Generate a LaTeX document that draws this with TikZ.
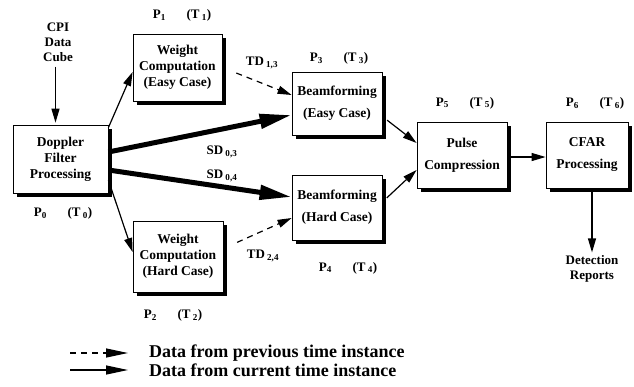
\documentclass[tikz,border=0pt]{standalone}
\usepackage{fontspec}
\setmainfont{Liberation Serif}
\usepackage{tikz}
\usetikzlibrary {arrows.meta,calc}

\newcommand{\lbl}[1]{P\textsubscript{#1}\hspace{1.6em}(T\,\textsubscript{#1})}

\tikzset{
  proc/.style={draw,thick,fill=white,align=center,font=\fontsize{13.5}{16}\selectfont\bfseries,inner sep=2pt},
  tag/.style={align=center,font=\fontsize{13}{15}\selectfont\bfseries,inner sep=1pt},
  arr/.style={-{Triangle[length=14pt,width=8pt]},line width=1.2pt},
  bigarr/.style={-{Triangle[length=32pt,width=14pt]},line width=5pt},
  prev/.style={arr,dash pattern=on 6pt off 5pt}
}

\begin{document}
\begin{tikzpicture}[x=1pt,y=-1pt]
    \useasboundingbox (0,0) rectangle (634,386);
    % shadows under the blocks
    \foreach \cx/\cy/\w/\h in {60.5/159/95/68,177.5/67.5/89/67,178/256.5/90/71,337/103.5/90/63,337/207.5/90/65,462/155/90/66,587/155/82/66} {
      \fill[black] (\cx-\w/2+4,\cy-\h/2+4) rectangle (\cx+\w/2+4,\cy+\h/2+4);
    }
    % processing blocks
    \node[proc,minimum width=95pt,minimum height=68pt] (dop) at (60.5,159) {Doppler\\Filter\\Processing};
    \node[proc,minimum width=89pt,minimum height=67pt] (wte) at (177.5,67.5) {Weight\\Computation\\(Easy Case)};
    \node[proc,minimum width=90pt,minimum height=71pt] (wth) at (178,256.5) {Weight\\Computation\\(Hard Case)};
    \node[proc,minimum width=90pt,minimum height=63pt] (bfe) at (337,103.5) {Beamforming\\[6pt](Easy Case)};
    \node[proc,minimum width=90pt,minimum height=65pt] (bfh) at (337,207.5) {Beamforming\\[6pt](Hard Case)};
    \node[proc,minimum width=90pt,minimum height=66pt] (pc) at (462,155) {Pulse\\[6pt]Compression};
    \node[proc,minimum width=82pt,minimum height=66pt] (cfar) at (587,155) {CFAR\\[6pt]Processing};
    % processor / time labels
    \foreach \n/\x/\y in {0/63/213,1/182/15,2/173/315,3/339/58,4/348/268,5/465/103,6/595/103} {
      \node[tag] (p\n) at (\x,\y) {\lbl{\n}};
    }
    \node[tag] (cpi) at (58,42) {CPI\\Data\\Cube};
    \node[tag] (det) at (592,269) {Detection\\Reports};
    \node[tag] (td13) at (262,63) {TD\,\textsubscript{1,3}};
    \node[tag] (sd03) at (222,152) {SD\,\textsubscript{0,3}};
    \node[tag] (sd04) at (222,176) {SD\,\textsubscript{0,4}};
    \node[tag] (td24) at (263,256) {TD\,\textsubscript{2,4}};
    % data flow
    \draw[arr] ([xshift=-2.5pt,yshift=-4pt]cpi.south) -- ([xshift=-2.5pt,yshift=2pt]cpi.south |- dop.north);
    \draw[arr] ([yshift=-3pt]dop.north east) -- ([yshift=-4.5pt]wte.west);
    \draw[arr] ([yshift=-21pt]dop.east) -- ([yshift=4.5pt]wth.west);
    \draw[bigarr] ([yshift=7pt]dop.east) -- ([yshift=-11.5pt]bfe.west);
    \draw[bigarr] ([yshift=-11pt]dop.east) -- ([yshift=10.5pt]bfh.west);
    \draw[prev,shorten <=15pt] (wte.east) -- ([yshift=8.5pt]bfe.west);
    \draw[prev,shorten <=15pt] ([yshift=8pt]wth.east) -- ([yshift=-10.5pt]bfh.west);
    \draw[arr,shorten <=6pt] ([yshift=-13pt]bfe.east) -- ([yshift=12pt]pc.west);
    \draw[arr,shorten <=6pt] ([yshift=5.5pt]bfh.east) -- ([yshift=-15pt]pc.west);
    \draw[arr,shorten <=4pt] ([yshift=-2pt]pc.east) -- ([yshift=-2pt]cfar.west);
    \draw[arr,shorten <=4pt] ([xshift=5pt]cfar.south) -- ([xshift=5pt,yshift=2pt]cfar.south |- det.north);
    % legend
    \coordinate (lg1) at (70,353);
    \coordinate (lg2) at (70,370);
    \node[tag,anchor=west,font=\fontsize{18}{20}\selectfont\bfseries] (lgp) at (148,353) {Data from previous time instance};
    \node[tag,anchor=west,font=\fontsize{18}{20}\selectfont\bfseries] (lgc) at (148,370) {Data from current time instance};
    \draw[prev,-{Triangle[length=22pt,width=9pt]}] (lg1) -- ([xshift=-20pt]lgp.west);
    \draw[arr,-{Triangle[length=22pt,width=9pt]}] (lg2) -- ([xshift=-20pt]lgc.west);
\end{tikzpicture}
\end{document}
